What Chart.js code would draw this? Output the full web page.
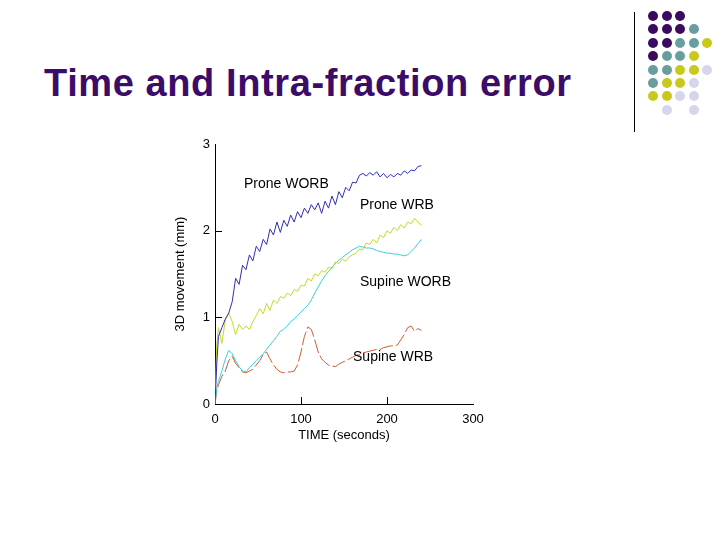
<!DOCTYPE html>
<html>
<head>
<meta charset="utf-8">
<script src="https://cdn.jsdelivr.net/npm/chart.js@4.4.1/dist/chart.umd.min.js"></script>
<style>
  html, body { margin: 0; padding: 0; background: #fff; }
  #slide { position: relative; width: 728px; height: 546px; overflow: hidden; font-family: "Liberation Sans", Arial, sans-serif; }
  #title { position: absolute; left: 44px; top: 62px; margin: 0; font-size: 38px; font-weight: bold; letter-spacing: 0.6px; color: #3b0c68; white-space: nowrap; }
  #rule { position: absolute; left: 634px; top: 12px; width: 1px; height: 120px; background: #000; }
  .dot { position: absolute; width: 10px; height: 10px; border-radius: 50%; }
  #chart { position: absolute; left: 0; top: 0; }
</style>
</head>
<body>
<div id="slide">
  <h1 id="title">Time and Intra-fraction error</h1>
  <div id="rule"></div>
  <canvas id="chart" width="728" height="546"></canvas>
</div>
<script>
// time in seconds, shared by all four curves
const seconds = [0, 2, 4, 8, 12, 16, 20, 24, 28, 32, 36, 40, 44, 48, 52, 56, 60, 64, 68, 72, 76, 80, 84, 88, 92, 96, 100,
  104, 108, 112, 116, 120, 124, 128, 132, 136, 140, 144, 148, 152, 156, 160, 164, 168, 172, 176, 180, 184, 188, 192, 196, 200,
  204, 208, 212, 216, 220, 224, 228, 232, 236, 240];

const proneWORB = [0, 0.45, 0.78, 0.88, 0.98, 1.05, 1.18, 1.45, 1.38, 1.6, 1.55, 1.72, 1.65, 1.82, 1.76, 1.9, 1.84, 2.02, 1.95, 2.1, 1.98, 2.12, 2.05, 2.18, 2.1, 2.22, 2.15,
  2.26, 2.2, 2.3, 2.24, 2.32, 2.2, 2.34, 2.26, 2.4, 2.3, 2.45, 2.38, 2.5, 2.46, 2.56, 2.55, 2.64, 2.66, 2.63, 2.67, 2.64, 2.68, 2.62, 2.66, 2.61,
  2.65, 2.62, 2.66, 2.64, 2.69, 2.66, 2.7, 2.69, 2.74, 2.75];

const proneWRB = [0, 0.68, 0.88, 0.7, 0.97, 1.05, 0.95, 0.8, 0.92, 0.86, 0.9, 0.86, 0.95, 1.02, 1.1, 1.04, 1.16, 1.08, 1.2, 1.16, 1.24, 1.22, 1.28, 1.25, 1.32, 1.3, 1.37,
  1.36, 1.45, 1.42, 1.5, 1.48, 1.54, 1.52, 1.58, 1.56, 1.64, 1.62, 1.67, 1.65, 1.7, 1.72, 1.74, 1.79, 1.78, 1.86, 1.84, 1.9, 1.86, 1.95, 1.92, 2.0,
  1.97, 2.04, 2.0, 2.07, 2.03, 2.1, 2.08, 2.14, 2.1, 2.06];

const supineWORB = [0, 0.18, 0.26, 0.38, 0.52, 0.62, 0.58, 0.5, 0.43, 0.38, 0.37, 0.42, 0.46, 0.5, 0.54, 0.58, 0.63, 0.68, 0.73, 0.78, 0.84, 0.86, 0.9, 0.95, 0.98, 1.02, 1.06,
  1.1, 1.14, 1.2, 1.28, 1.35, 1.42, 1.48, 1.53, 1.58, 1.62, 1.66, 1.69, 1.72, 1.75, 1.78, 1.8, 1.82, 1.81, 1.8, 1.8, 1.79, 1.77, 1.76, 1.75, 1.74,
  1.74, 1.73, 1.73, 1.72, 1.71, 1.72, 1.76, 1.8, 1.85, 1.9];

const supineWRB = [0, 0.15, 0.22, 0.32, 0.38, 0.5, 0.55, 0.47, 0.42, 0.37, 0.36, 0.38, 0.4, 0.45, 0.5, 0.57, 0.6, 0.52, 0.45, 0.4, 0.37, 0.36, 0.37, 0.37, 0.38, 0.45, 0.6,
  0.78, 0.89, 0.86, 0.74, 0.6, 0.52, 0.48, 0.45, 0.44, 0.43, 0.46, 0.48, 0.5, 0.52, 0.54, 0.56, 0.57, 0.59, 0.6, 0.61, 0.62, 0.63, 0.63, 0.65, 0.66,
  0.67, 0.67, 0.68, 0.74, 0.8, 0.88, 0.9, 0.84, 0.87, 0.85];

const seriesNames = ['Prone WORB', 'Prone WRB', 'Supine WORB', 'Supine WRB'];
const xTicks = [0, 100, 200, 300];
const yTicks = [0, 1, 2, 3];

// where the curve names sit, in data units (seconds, mm)
const labelAnchors = [[33.7, 2.54], [168.6, 2.29], [168.6, 1.41], [160.5, 0.54]];

// corner decoration, one string per row: p purple, t teal, y yellow, l lavender, . empty
const dotRows = ['ppp', 'pppt', 'pptty', 'ptty', 'ttyyl', 'tyyl', 'yyll', '.l.l'];
const dotColors = { p: '#3b0c5e', t: '#6a9e9e', y: '#c9c81c', l: '#d6d6ea' };

const slide = document.getElementById('slide');
dotRows.forEach((row, r) => {
  [...row].forEach((c, i) => {
    if (c === '.') return;
    const d = document.createElement('div');
    d.className = 'dot';
    d.style.left = (648 + i * 13.5) + 'px';
    d.style.top = (11 + r * 13.4) + 'px';
    d.style.background = dotColors[c];
    slide.appendChild(d);
  });
});

function pts(vals) {
  return vals.map((v, i) => ({ x: seconds[i], y: v }));
}

const fontFam = '"Liberation Sans", Arial, sans-serif';

const innerTicks = {
  id: 'innerTicks',
  afterDraw(chart) {
    const ctx = chart.ctx;
    const xs = chart.scales.x, ys = chart.scales.y;
    const area = chart.chartArea;
    ctx.save();
    ctx.strokeStyle = '#000';
    ctx.lineWidth = 1;
    ctx.beginPath();
    xTicks.slice(1, -1).forEach(v => {
      const px = Math.round(xs.getPixelForValue(v)) + 0.5;
      ctx.moveTo(px, area.bottom);
      ctx.lineTo(px, area.bottom - 7);
    });
    yTicks.slice(1, -1).forEach(v => {
      const py = Math.round(ys.getPixelForValue(v)) + 0.5;
      ctx.moveTo(area.left, py);
      ctx.lineTo(area.left + 7, py);
    });
    ctx.stroke();
    // curve names
    ctx.fillStyle = '#000';
    ctx.font = '14px ' + fontFam;
    ctx.textBaseline = 'middle';
    ctx.textAlign = 'left';
    labelAnchors.forEach((a, i) => {
      ctx.fillText(seriesNames[i], xs.getPixelForValue(a[0]), ys.getPixelForValue(a[1]));
    });
    ctx.restore();
  }
};

new Chart(document.getElementById('chart'), {
  type: 'line',
  data: {
    datasets: [
      { label: seriesNames[0], data: pts(proneWORB), borderColor: '#2e2eb8' },
      { label: seriesNames[1], data: pts(proneWRB), borderColor: '#c6d82c' },
      { label: seriesNames[2], data: pts(supineWORB), borderColor: '#3ccfd6' },
      { label: seriesNames[3], data: pts(supineWRB), borderColor: '#d05a34', borderDash: [14, 3] }
    ]
  },
  options: {
    responsive: false,
    animation: false,
    devicePixelRatio: 1,
    layout: { padding: { left: 160, top: 144, right: 255, bottom: 97 } },
    elements: {
      line: { borderWidth: 1, tension: 0, fill: false },
      point: { radius: 0 }
    },
    plugins: {
      legend: { display: false },
      tooltip: { enabled: false }
    },
    scales: {
      x: {
        type: 'linear',
        min: 0, max: 300,
        afterFit: s => { s.height = 45; },
        afterBuildTicks: s => { s.ticks = xTicks.map(v => ({ value: v })); },
        grid: { display: false, drawTicks: false },
        border: { display: true, color: '#000', width: 1 },
        ticks: { color: '#000', padding: 8, font: { family: fontFam, size: 13 } },
        title: { display: true, text: 'TIME (seconds)', color: '#000', padding: { top: 0, bottom: 6 }, font: { family: fontFam, size: 13 } }
      },
      y: {
        type: 'linear',
        min: 0, max: 3,
        afterFit: s => { s.width = 55; },
        afterBuildTicks: s => { s.ticks = yTicks.map(v => ({ value: v })); },
        grid: { display: false, drawTicks: false },
        border: { display: true, color: '#000', width: 1 },
        ticks: { color: '#000', padding: 5, font: { family: fontFam, size: 13 } },
        title: { display: true, text: '3D movement (mm)', color: '#000', padding: { top: 13, bottom: 0 }, font: { family: fontFam, size: 13 } }
      }
    }
  },
  plugins: [innerTicks]
});
</script>
</body>
</html>
